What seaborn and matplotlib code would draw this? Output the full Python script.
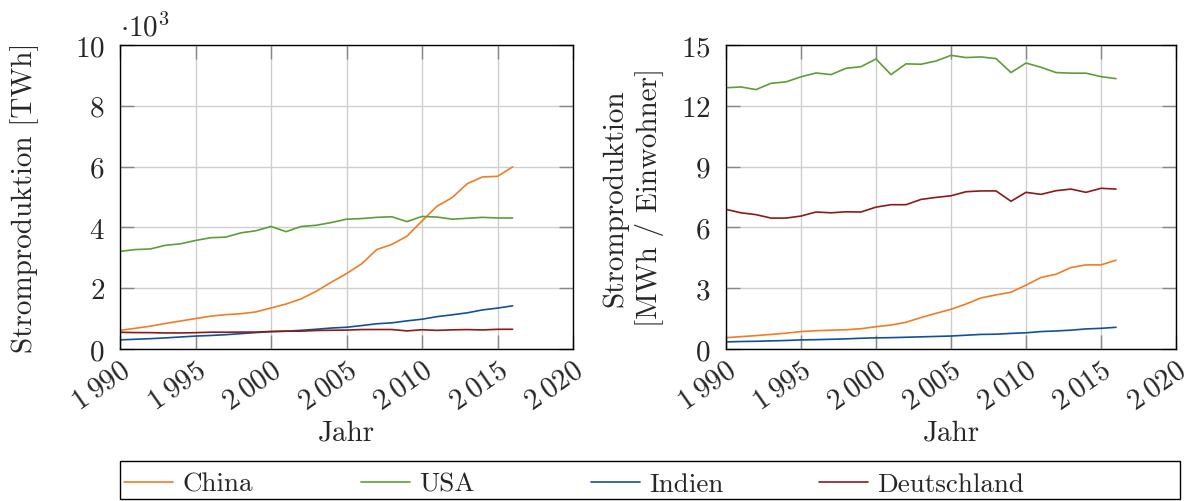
import numpy as np
import pandas as pd
import matplotlib
matplotlib.use("Agg")
import matplotlib.pyplot as plt
from matplotlib.patches import Rectangle
from matplotlib.ticker import FixedLocator, FixedFormatter
import seaborn as sns

years = list(range(1990, 2017))

# Total electricity production [TWh]
china_twh = [615, 680, 750, 840, 920, 1000, 1080, 1130, 1160, 1220, 1350, 1480, 1650, 1900, 2200,
             2480, 2800, 3270, 3440, 3710, 4210, 4700, 4980, 5440, 5660, 5680, 5990]
usa_twh = [3210, 3270, 3290, 3410, 3460, 3570, 3660, 3680, 3820, 3890, 4030, 3860, 4030, 4070, 4160,
           4270, 4290, 4330, 4350, 4190, 4360, 4340, 4270, 4300, 4330, 4310, 4310]
indien_twh = [300, 320, 340, 365, 395, 425, 445, 470, 505, 540, 570, 585, 615, 650, 690,
              715, 770, 830, 860, 925, 980, 1065, 1125, 1190, 1285, 1345, 1420]
deutschland_twh = [550, 540, 538, 527, 529, 537, 553, 552, 557, 556, 577, 586, 587, 609, 617,
                   622, 640, 641, 641, 595, 633, 613, 630, 639, 627, 648, 649]

# Per capita [MWh / Einwohner]
china_pc = [0.56, 0.61, 0.66, 0.72, 0.78, 0.86, 0.90, 0.93, 0.95, 1.00, 1.10, 1.18, 1.32, 1.55, 1.76,
            1.96, 2.22, 2.52, 2.67, 2.80, 3.15, 3.53, 3.69, 4.02, 4.15, 4.15, 4.38]
usa_pc = [12.89, 12.93, 12.80, 13.11, 13.18, 13.43, 13.62, 13.54, 13.85, 13.93, 14.31, 13.54, 14.07,
          14.05, 14.21, 14.49, 14.38, 14.41, 14.33, 13.64, 14.11, 13.90, 13.64, 13.61, 13.61, 13.44, 13.34]
indien_pc = [0.35, 0.37, 0.38, 0.40, 0.42, 0.45, 0.46, 0.48, 0.50, 0.53, 0.55, 0.56, 0.58, 0.60, 0.62,
             0.64, 0.68, 0.72, 0.73, 0.77, 0.80, 0.86, 0.89, 0.93, 0.99, 1.02, 1.07]
deutschland_pc = [6.89, 6.72, 6.63, 6.46, 6.46, 6.56, 6.76, 6.72, 6.77, 6.76, 7.00, 7.12, 7.12, 7.38,
                  7.48, 7.56, 7.76, 7.80, 7.80, 7.29, 7.73, 7.63, 7.81, 7.89, 7.73, 7.93, 7.89]

countries = ["China", "USA", "Indien", "Deutschland"]
colors = {"China": "#F07D24", "USA": "#5C9E35", "Indien": "#145096", "Deutschland": "#8C1A1A"}

x_ticks = [1990, 1995, 2000, 2005, 2010, 2015, 2020]
x_labels = ["$1\\:990$", "$1\\:995$", "$2\\:000$", "$2\\:005$", "$2\\:010$", "$2\\:015$", "$2\\:020$"]
left_yticks = [0, 2000, 4000, 6000, 8000, 10000]
left_ylabels = ["$0$", "$2$", "$4$", "$6$", "$8$", "$10$"]
right_yticks = [0, 3, 6, 9, 12, 15]
right_ylabels = ["$0$", "$3$", "$6$", "$9$", "$12$", "$15$"]

def long_df(series):
    rows = []
    for c, vals in zip(countries, series):
        for y, v in zip(years, vals):
            rows.append({"Jahr": y, "Wert": v, "Land": c})
    return pd.DataFrame(rows)

df_total = long_df([china_twh, usa_twh, indien_twh, deutschland_twh])
df_pc = long_df([china_pc, usa_pc, indien_pc, deutschland_pc])

sns.set_theme(style="white")
plt.rcParams["font.family"] = "serif"
plt.rcParams["font.serif"] = ["cmr10", "DejaVu Serif"]
plt.rcParams["mathtext.fontset"] = "cm"
plt.rcParams["axes.unicode_minus"] = False

W, H = 1192, 502
fig = plt.figure(figsize=(W / 100, H / 100), dpi=100)
ax1 = fig.add_axes([120 / W, (H - 350) / H, 453 / W, 304 / H])
ax2 = fig.add_axes([726 / W, (H - 350) / H, 450 / W, 304 / H])

TFS = 21
LFS = 21

for ax, df, yt, yl, ylim in [(ax1, df_total, left_yticks, left_ylabels, (0, 10000)),
                              (ax2, df_pc, right_yticks, right_ylabels, (0, 15))]:
    sns.lineplot(data=df, x="Jahr", y="Wert", hue="Land", hue_order=countries,
                 palette=colors, ax=ax, linewidth=1.2, legend=False)
    ax.set_xlim(1990, 2020)
    ax.set_ylim(*ylim)
    ax.xaxis.set_major_locator(FixedLocator(x_ticks))
    ax.xaxis.set_major_formatter(FixedFormatter(x_labels))
    ax.yaxis.set_major_locator(FixedLocator(yt))
    ax.yaxis.set_major_formatter(FixedFormatter(yl))
    ax.grid(True, color="#cfcfcf", linewidth=1.0)
    ax.set_axisbelow(True)
    for s in ax.spines.values():
        s.set_color("black")
        s.set_linewidth(1.0)
    ax.tick_params(axis="both", which="major", direction="in", length=10, width=1.0,
                   color="#888888", labelsize=TFS, top=True, right=True, bottom=True, left=True)
    ax.tick_params(axis="y", pad=11)
    ax.tick_params(axis="x", pad=5)
    for lab in ax.get_xticklabels():
        lab.set_rotation(35)
        lab.set_ha("right")
        lab.set_va("top")
        lab.set_rotation_mode("anchor")
    ax.set_xlabel("Jahr", fontsize=LFS, labelpad=3)

ax1.set_ylabel("Stromproduktion [TWh]", fontsize=LFS, labelpad=26)
ax2.set_ylabel("Stromproduktion\n[MWh / Einwohner]", fontsize=LFS, labelpad=12, linespacing=1.3)
ax1.text(0.0, 1.01, "$\\cdot 10^{3}$", transform=ax1.transAxes, fontsize=TFS,
         ha="left", va="bottom")

# Legend: one entry per fixed-width column, as in the reference
legend_x = [124, 361, 591, 819]
for c, lx in zip(countries, legend_x):
    h = plt.Line2D([], [], color=colors[c], linewidth=1.2)
    fig.legend([h], [c], loc="center left", bbox_to_anchor=(lx / W, 1 - 485 / H),
               frameon=False, fontsize=19.5, handlelength=1.8, handletextpad=0.36,
               borderaxespad=0, borderpad=0)
fig.add_artist(Rectangle((120 / W, 1 - 500 / H), 1060 / W, 38 / H, transform=fig.transFigure,
                         fill=False, edgecolor="black", linewidth=1.0))

fig.savefig("out.png", dpi=100)
